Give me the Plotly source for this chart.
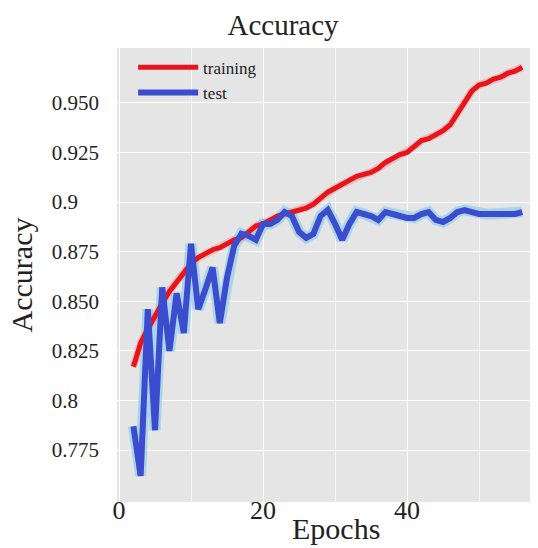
import plotly.graph_objects as go

epochs = list(range(2, 57))

training = [0.817, 0.829, 0.836, 0.843, 0.849, 0.855, 0.860, 0.865, 0.869, 0.872,
            0.874, 0.876, 0.877, 0.879, 0.881, 0.882, 0.885, 0.888, 0.889, 0.891,
            0.893, 0.894, 0.895, 0.896, 0.897, 0.899, 0.902, 0.905, 0.907, 0.909,
            0.911, 0.913, 0.914, 0.915, 0.917, 0.920, 0.922, 0.924, 0.925, 0.928,
            0.931, 0.932, 0.934, 0.936, 0.939, 0.945, 0.951, 0.956, 0.959, 0.960,
            0.962, 0.963, 0.965, 0.966, 0.968]

test = [0.787, 0.762, 0.846, 0.785, 0.857, 0.825, 0.854, 0.834, 0.879, 0.846,
        0.856, 0.867, 0.839, 0.862, 0.878, 0.884, 0.883, 0.881, 0.889, 0.889,
        0.891, 0.895, 0.893, 0.885, 0.882, 0.884, 0.893, 0.896, 0.889, 0.881,
        0.889, 0.895, 0.894, 0.893, 0.891, 0.895, 0.894, 0.893, 0.892, 0.892,
        0.894, 0.895, 0.891, 0.890, 0.892, 0.895, 0.896, 0.895, 0.894, 0.894,
        0.894, 0.894, 0.894, 0.894, 0.895]

y_tickvals = [0.775, 0.8, 0.825, 0.85, 0.875, 0.9, 0.925, 0.95]
y_ticktext = ["0.775", "0.8\u00a0\u00a0\u00a0\u00a0", "0.825", "0.850", "0.875",
              "0.9\u00a0\u00a0\u00a0\u00a0", "0.925", "0.950"]
x_tickvals = [0, 20, 40]
x_ticktext = ["0", "20", "40"]

SERIF = "Liberation Serif"

fig = go.Figure()
# soft glow under the curves
fig.add_trace(go.Scatter(x=epochs, y=test, mode="lines", showlegend=False,
                         hoverinfo="skip",
                         line=dict(color="rgba(150,205,235,0.75)", width=11)))
fig.add_trace(go.Scatter(x=epochs, y=training, mode="lines", showlegend=False,
                         hoverinfo="skip",
                         line=dict(color="rgba(240,150,150,0.45)", width=8)))
fig.add_trace(go.Scatter(x=epochs, y=training, mode="lines", name="training",
                         line=dict(color="#e8141c", width=5)))
fig.add_trace(go.Scatter(x=epochs, y=test, mode="lines", name="test",
                         line=dict(color="#3b4dce", width=6)))

fig.update_layout(
    width=538, height=548,
    margin=dict(l=117, r=8, t=48, b=46),
    paper_bgcolor="white",
    plot_bgcolor="#e5e5e5",
    font=dict(family=SERIF, color="#222222"),
    title=dict(text="Accuracy", x=(283 - 117) / 413, xref="paper", xanchor="center",
               y=1 - 25 / 548, yanchor="middle",
               font=dict(family=SERIF, size=29, color="#222222")),
    showlegend=True,
    legend=dict(x=0.039, y=0.996, xanchor="left", yanchor="top",
                bgcolor="rgba(0,0,0,0)", itemwidth=60,
                font=dict(family=SERIF, size=17, color="#222222")),
    xaxis=dict(range=[-0.28, 57.08], tickmode="array", tickvals=x_tickvals,
               ticktext=x_ticktext, showgrid=True, gridcolor="white", gridwidth=1,
               zeroline=False, showline=False, ticks="", ticklabelstandoff=-10,
               tickfont=dict(family=SERIF, size=26, color="#222222"),
               minor=dict(dtick=10, showgrid=True, gridcolor="rgba(255,255,255,0.6)")),
    yaxis=dict(range=[0.7488, 0.9777], tickmode="array", tickvals=y_tickvals,
               ticktext=y_ticktext, showgrid=True, gridcolor="white", gridwidth=1,
               zeroline=False, showline=False, ticks="", ticklabelstandoff=17,
               tickfont=dict(family=SERIF, size=21, color="#222222"),
               title=dict(text="Accuracy", standoff=10,
                          font=dict(family=SERIF, size=30, color="#222222"))),
)

fig.add_annotation(text="Epochs", xref="paper", yref="paper",
                   x=(336 - 117) / 413, y=-(528 - 502) / 454,
                   xanchor="center", yanchor="middle", showarrow=False,
                   font=dict(family=SERIF, size=30, color="#222222"))

fig.write_html("out.html")
